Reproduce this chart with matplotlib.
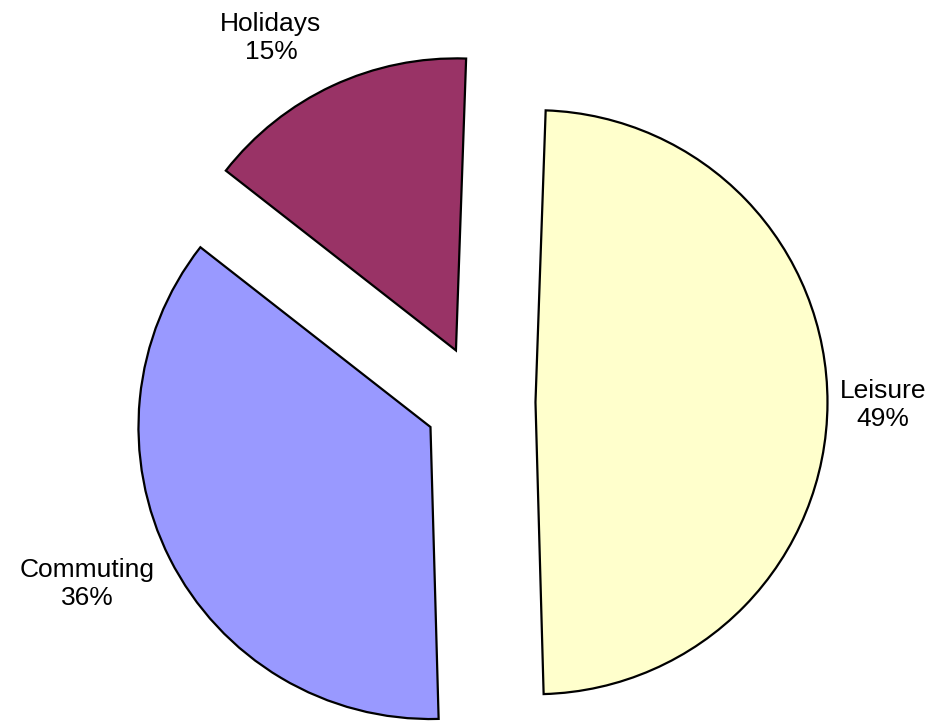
import matplotlib
matplotlib.use("Agg")
import matplotlib.pyplot as plt

categories = ["Leisure", "Commuting", "Holidays"]
values = [49, 36, 15]
colors = ["#FFFFCC", "#9999FF", "#993366"]
explode = [0.19, 0.19, 0.195]

# label anchor positions in pixels (from top-left of the figure)
label_px = [(883, 405), (87, 584), (271, 38)]

W, H = 936, 724
fig = plt.figure(figsize=(W / 100, H / 100), dpi=100)
ax = fig.add_axes([0, 0, 1, 1])

R = 292.0  # pixels per unit radius
cx_px, cy_px = 480, 402  # pie centre in pixels (from top-left)

wedges, _ = ax.pie(values, colors=colors, explode=explode, startangle=88,
                   counterclock=False, radius=1,
                   wedgeprops=dict(edgecolor="black", linewidth=1.6),
                   frame=True)
ax.set_xlim(-cx_px / R, (W - cx_px) / R)
ax.set_ylim(-(H - cy_px) / R, cy_px / R)
ax.set_aspect("equal")
ax.axis("off")

total = sum(values)
for name, v, (px, py) in zip(categories, values, label_px):
    tx = (px - cx_px) / R
    ty = (cy_px - py) / R
    ax.text(tx, ty, f"{name}\n{round(100 * v / total)}%", ha="center", va="center",
            fontsize=19, family=["Liberation Sans", "DejaVu Sans"], linespacing=1.2)

fig.savefig("out.png", dpi=100)
